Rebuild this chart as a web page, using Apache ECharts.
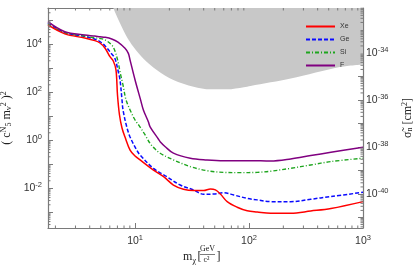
<!DOCTYPE html>
<html><head><meta charset="utf-8">
<script src="https://cdn.jsdelivr.net/npm/echarts@6/dist/echarts.min.js"></script>
<style>html,body{margin:0;padding:0;background:#fff}#c{width:417px;height:273px}</style>
</head><body><div id="c"></div>
<script>
// ---- data ----
const seriesNames = ['Xe', 'Ge', 'Si', 'F'];
const xeMass = [1.72, 2.42, 3.62, 4.44, 4.92, 5.44, 6.02, 6.44, 6.80, 7.01, 7.30, 7.68, 8.16, 9.04, 10, 11.07, 14.5, 17.8, 21.7, 26.6, 32.6, 40.0, 45.8, 50.7, 56.1, 64.3, 78.7, 96.4, 118, 154.5, 232, 348, 523, 1000];
const xeVal = [6.2e4, 2.63e4, 1.78e4, 1.38e4, 1.1e4, 6.8e3, 2.95e3, 1.95e3, 830, 75, 11, 3.16, 1.33, 0.38, 0.214, 0.148, 0.056, 0.0295, 0.0133, 0.0089, 0.0078, 0.0078, 0.0091, 0.0083, 0.0056, 0.0027, 0.00158, 0.00112, 0.001, 0.00089, 0.00089, 0.0011, 0.0014, 0.0027];
const geMass = [1.72, 2.42, 3.62, 4.44, 4.92, 5.44, 6.24, 6.66, 7.13, 7.38, 7.68, 7.84, 8.45, 9.04, 10.35, 11.07, 14.5, 19.0, 24.9, 32.6, 40.0, 49.0, 60.0, 73.5, 96.4, 118, 154.5, 232, 348, 523, 1000];
const geVal = [7.5e4, 3.0e4, 2.04e4, 1.58e4, 1.26e4, 8.5e3, 3.8e3, 2.5e3, 680, 316, 47, 17.8, 3.55, 1.33, 0.38, 0.237, 0.066, 0.0295, 0.0133, 0.0083, 0.0055, 0.0056, 0.0063, 0.0051, 0.0037, 0.0032, 0.0027, 0.0027, 0.0034, 0.0044, 0.0066];
const siMass = [1.72, 2.42, 3.62, 4.44, 4.92, 5.44, 6.24, 6.66, 7.13, 7.38, 7.84, 8.33, 9.04, 10, 11.07, 12.25, 13.55, 15.0, 16.6, 21.7, 30.5, 42.8, 60.0, 84.1, 118, 154.5, 232, 348, 523, 1000];
const siVal = [6.8e4, 2.9e4, 2.14e4, 1.8e4, 1.7e4, 1.48e4, 9.1e3, 5.1e3, 1.62e3, 680, 195, 47, 17.8, 6.8, 3.47, 1.62, 0.72, 0.42, 0.28, 0.148, 0.078, 0.0525, 0.0447, 0.0437, 0.0447, 0.050, 0.066, 0.091, 0.126, 0.174];
const fMass = [1.72, 2.42, 3.62, 4.44, 4.92, 5.44, 6.24, 7.08, 8.16, 8.73, 9.04, 10, 11.18, 11.83, 13.1, 13.55, 16.0, 16.6, 18.4, 21.7, 30.5, 42.8, 60.0, 103, 154.5, 232, 348, 523, 1000];
const fVal = [8.5e4, 3.24e4, 2.37e4, 2.14e4, 2.0e4, 1.9e4, 1.62e4, 1.2e4, 6.6e3, 4.07e3, 2.14e3, 316, 46.8, 17.8, 5.6, 3.55, 1.1, 0.85, 0.525, 0.282, 0.174, 0.148, 0.138, 0.138, 0.133, 0.162, 0.224, 0.309, 0.5];
const exclMass = [6.44, 7.38, 8.45, 9.66, 11.8, 15.5, 21.7, 32.6, 45.8, 64.3, 90, 103, 232, 640, 1000];
const exclVal = [3.16e5, 7.3e4, 2.0e4, 7.7e3, 2.5e3, 830, 316, 166, 129, 129, 158, 178, 363, 1120, 1410];
const xTickExps = [1, 2, 3];            // labelled x ticks 10^1..10^3
const leftTickExps = [-2, 0, 2, 4];     // labelled left ticks
const rightTickExps = [-40, -38, -36, -34]; // labelled right ticks
const rightOffset = 40;                 // right axis plotted in units of 1e-40 cm^2

// ---- axis ranges ----
const xMin = Math.pow(10, 0.236), xMax = 1000;
const yMin = Math.pow(10, -3.667), yMax = 3.16e5;
const y2Min = Math.pow(10, -41.447 + rightOffset), y2Max = Math.pow(10, -32.085 + rightOffset);

function minorList(lo, hi) {
  const out = [];
  for (let k = Math.floor(Math.log10(lo)) - 1; k <= Math.ceil(Math.log10(hi)); k++) {
    for (let d = 2; d <= 9; d++) {
      const v = d * Math.pow(10, k);
      if (v > lo && v < hi) out.push(v);
    }
  }
  return out;
}
const xMinor = minorList(xMin, xMax);
const yMinor = minorList(yMin, yMax);
const y2Minor = minorList(y2Min, y2Max);

function expOf(v) { const e = Math.log10(v); const r = Math.round(e); return Math.abs(e - r) < 1e-6 ? r : null; }
const AX = '#7a7a7a';
const supRich = { s: { fontSize: 7.5, fontFamily: 'Liberation Sans', color: '#333', padding: [0, 0, 7, 0] } };

function pairs(xs, ys) { return xs.map((x, i) => [x, ys[i]]); }

const chart = echarts.init(document.getElementById('c'), null, { renderer: 'canvas' });
const labelBase = { fontSize: 10.5, fontFamily: 'Liberation Sans', color: '#333', rich: supRich };

const option = {
  animation: false,
  backgroundColor: '#fff',
  grid: { left: 48, right: 54, top: 8, bottom: 45, containLabel: false, outerBoundsMode: 'none' },
  legend: {
    data: seriesNames, orient: 'vertical', left: 305, top: 23, padding: 0,
    itemWidth: 29, itemHeight: 8, itemGap: 6,
    itemStyle: { opacity: 0 },
    textStyle: { fontSize: 7, color: '#333', fontFamily: 'Liberation Sans' }
  },
  xAxis: [{
    type: 'log', logBase: 10, min: xMin, max: xMax, position: 'bottom',
    axisLine: { show: true, lineStyle: { color: AX, width: 1.2 } },
    axisTick: { show: true, inside: true, length: 5, lineStyle: { color: AX } },
    splitLine: { show: false },
    axisLabel: Object.assign({}, labelBase, { margin: 6, showMinLabel: false,
      formatter: v => { const e = expOf(v); return (e !== null && xTickExps.includes(e)) ? '10{s|' + e + '}' : ''; } })
  }, {
    type: 'log', logBase: 10, min: xMin, max: xMax, position: 'top',
    axisLine: { show: true, lineStyle: { color: AX, width: 1.2 } },
    axisTick: { show: true, inside: true, length: 5, lineStyle: { color: AX } },
    axisLabel: { show: false }, splitLine: { show: false }
  }],
  yAxis: [{
    type: 'log', logBase: 10, min: yMin, max: yMax, position: 'left',
    axisLine: { show: true, lineStyle: { color: AX, width: 1.2 } },
    axisTick: { show: true, inside: true, length: 5, lineStyle: { color: AX } },
    splitLine: { show: false },
    axisLabel: Object.assign({}, labelBase, { margin: 6,
      formatter: v => { const e = expOf(v); return (e !== null && leftTickExps.includes(e)) ? '10{s|' + e + '}' : ''; } }),
    name: '( c{sp|N}{sb|5} m{sb|v}{sp|2} ){sp|2}', nameLocation: 'middle', nameGap: 30, nameRotate: 90,
    nameTextStyle: { fontFamily: 'Liberation Serif', fontSize: 12, color: '#222',
      rich: { sp: { fontSize: 8, fontFamily: 'Liberation Serif', color: '#222', padding: [0, 0, 6, 0] },
              sb: { fontSize: 8, fontFamily: 'Liberation Serif', color: '#222', padding: [4, 0, 0, 0] } } }
  }, {
    type: 'log', logBase: 10, min: y2Min, max: y2Max, position: 'right',
    axisLine: { show: true, lineStyle: { color: AX, width: 1.2 } },
    axisTick: { show: true, inside: true, length: 5, lineStyle: { color: AX } },
    splitLine: { show: false },
    axisLabel: Object.assign({}, labelBase, { margin: 3,
      formatter: v => { const e = expOf(v); if (e === null) return ''; const r = e - rightOffset; return rightTickExps.includes(r) ? '10{s|' + r + '}' : ''; } }),
    name: 'σ̃{sb|n} [cm{sp|2}]', nameLocation: 'middle', nameGap: 38, nameRotate: 90,
    nameTextStyle: { fontFamily: 'Liberation Serif', fontSize: 12, color: '#222',
      rich: { sp: { fontSize: 8, fontFamily: 'Liberation Serif', color: '#222', padding: [0, 0, 6, 0] },
              sb: { fontSize: 8, fontFamily: 'Liberation Serif', color: '#222', padding: [4, 0, 0, 0] } } }
  }],
  graphic: [
    { type: 'text', left: 183, top: 251, style: { text: 'm', font: '12px "Liberation Serif"', fill: '#222' } },
    { type: 'text', left: 192.5, top: 257, style: { text: 'χ', font: '8px "Liberation Serif"', fill: '#222' } },
    { type: 'text', left: 197.5, top: 251, style: { text: '[', font: '12px "Liberation Serif"', fill: '#222' } },
    { type: 'text', left: 200, top: 245, style: { text: 'GeV', font: '8px "Liberation Serif"', fill: '#222' } },
    { type: 'line', shape: { x1: 200, y1: 254.5, x2: 215, y2: 254.5 }, style: { stroke: '#222', lineWidth: 0.6 } },
    { type: 'text', left: 203.5, top: 255.5, style: { text: 'c²', font: '8px "Liberation Serif"', fill: '#222' } },
    { type: 'text', left: 216.5, top: 251, style: { text: ']', font: '12px "Liberation Serif"', fill: '#222' } }
  ],
  series: [
    { name: 'excl', type: 'line', data: pairs(exclMass, exclVal), symbol: 'none', smooth: 0.3, silent: true, z: 1,
      lineStyle: { width: 0 }, areaStyle: { color: '#c8c8c8', opacity: 1, origin: 'end' } },
    { name: 'Xe', type: 'line', data: pairs(xeMass, xeVal), symbol: 'none', smooth: 0.35, z: 5,
      lineStyle: { color: '#ff0000', width: 1.5 }, itemStyle: { color: '#ff0000' } },
    { name: 'Ge', type: 'line', data: pairs(geMass, geVal), symbol: 'none', smooth: 0.35, z: 4,
      lineStyle: { color: '#0a0aff', width: 1.5, type: [4, 2] }, itemStyle: { color: '#0a0aff' } },
    { name: 'Si', type: 'line', data: pairs(siMass, siVal), symbol: 'none', smooth: 0.35, z: 4,
      lineStyle: { color: '#1ea51e', width: 1.4, type: [4, 2, 1, 2] }, itemStyle: { color: '#1ea51e' } },
    { name: 'F', type: 'line', data: pairs(fMass, fVal), symbol: 'none', smooth: 0.35, z: 4,
      lineStyle: { color: '#800080', width: 1.5 }, itemStyle: { color: '#800080' } },
    { name: 'xminor', type: 'custom', silent: true, z: 6, xAxisIndex: 0, yAxisIndex: 0,
      data: xMinor.map(v => [v, 1]),
      renderItem: (params, api) => {
        const cs = params.coordSys; const x = api.coord([api.value(0), api.value(1)])[0];
        const b = cs.y + cs.height, t = cs.y;
        return { type: 'group', children: [
          { type: 'line', shape: { x1: x, y1: b, x2: x, y2: b - 2.5 }, style: { stroke: AX, lineWidth: 1 } },
          { type: 'line', shape: { x1: x, y1: t, x2: x, y2: t + 2.5 }, style: { stroke: AX, lineWidth: 1 } }] };
      } },
    { name: 'yminor', type: 'custom', silent: true, z: 6, xAxisIndex: 0, yAxisIndex: 0,
      data: yMinor.map(v => [10, v]),
      renderItem: (params, api) => {
        const cs = params.coordSys; const y = api.coord([api.value(0), api.value(1)])[1];
        return { type: 'line', shape: { x1: cs.x, y1: y, x2: cs.x + 2.5, y2: y }, style: { stroke: AX, lineWidth: 1 } };
      } },
    { name: 'y2minor', type: 'custom', silent: true, z: 6, xAxisIndex: 0, yAxisIndex: 1,
      data: y2Minor.map(v => [10, v]),
      renderItem: (params, api) => {
        const cs = params.coordSys; const y = api.coord([api.value(0), api.value(1)])[1];
        const r = cs.x + cs.width;
        return { type: 'line', shape: { x1: r, y1: y, x2: r - 2.5, y2: y }, style: { stroke: AX, lineWidth: 1 } };
      } }
  ]
};
chart.setOption(option);
</script>
</body></html>
